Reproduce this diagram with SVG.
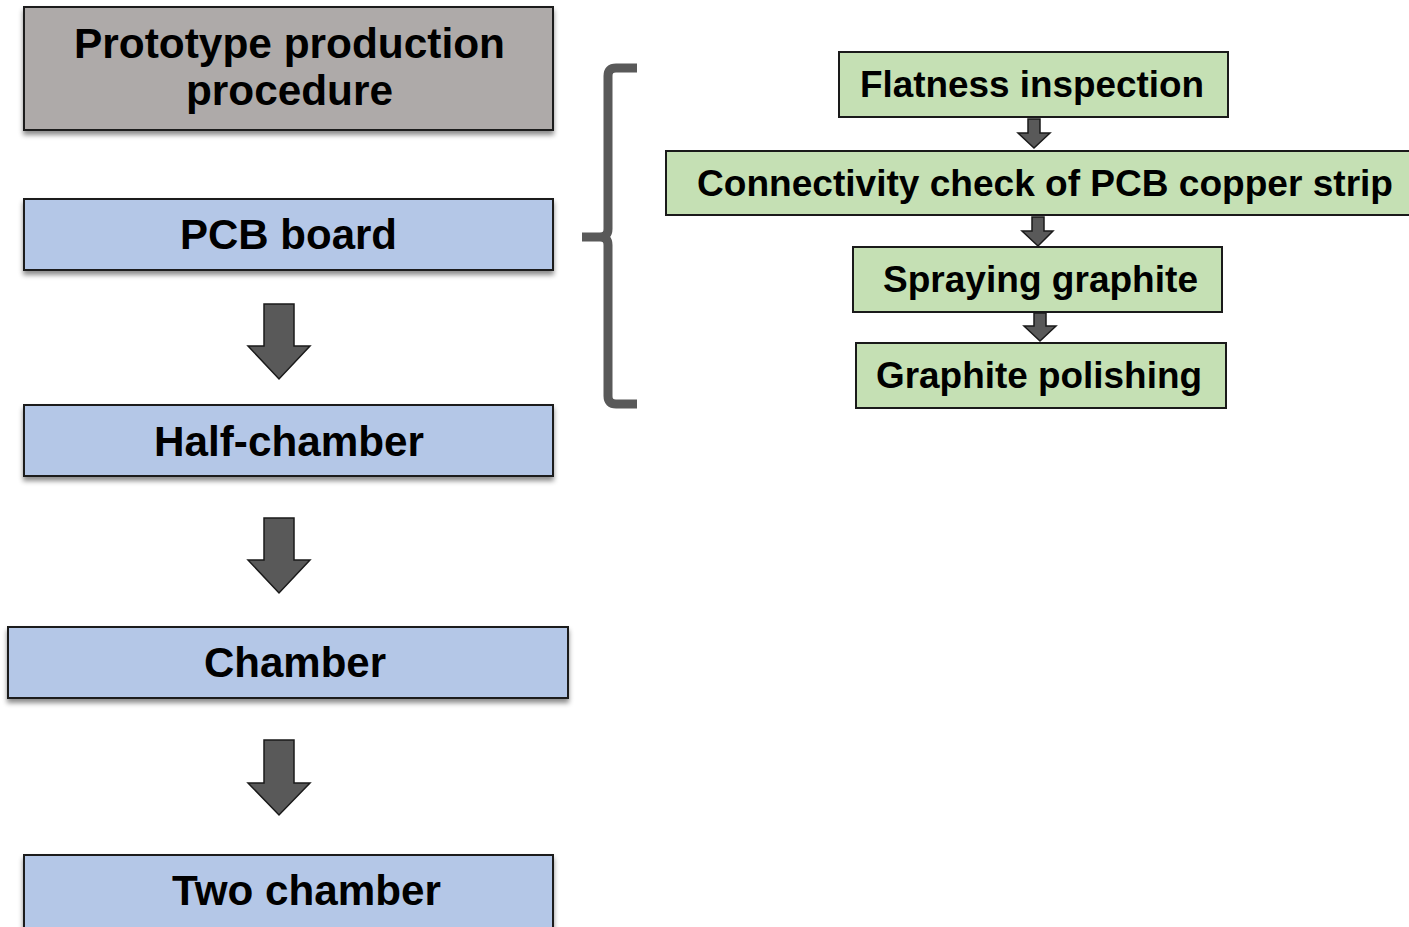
<svg xmlns="http://www.w3.org/2000/svg" width="1409" height="927" viewBox="0 0 1409 927">
<defs>
<filter id="sh" x="-5%" y="-20%" width="110%" height="150%">
<feDropShadow dx="0" dy="4" stdDeviation="2.5" flood-color="#000" flood-opacity="0.45"/>
</filter>
<style>
.gray{fill:#aeaaa9;stroke:#1a1a1a;stroke-width:2}
.blue{fill:#b4c7e7;stroke:#1a1a1a;stroke-width:2}
.green{fill:#c5e0b4;stroke:#1a1a1a;stroke-width:2}
.lt{font-family:"Liberation Sans",Arial,sans-serif;font-weight:bold;font-size:43px;fill:#000;text-anchor:start}
.rt{font-family:"Liberation Sans",Arial,sans-serif;font-weight:bold;font-size:37px;fill:#000;text-anchor:start}
.arr{fill:#595959;stroke:#1a1a1a;stroke-width:1.5;stroke-linejoin:miter}
.brace{fill:none;stroke:#595959;stroke-width:9;stroke-linejoin:round}
</style>
</defs>
<rect width="1409" height="927" fill="#fff"/>

<g id="n-title"><rect class="gray" x="24" y="7" width="529" height="123" filter="url(#sh)"/>
<text class="lt" x="74" y="58" textLength="431" lengthAdjust="spacingAndGlyphs">Prototype production</text>
<text class="lt" x="186" y="105" textLength="207" lengthAdjust="spacingAndGlyphs">procedure</text></g>

<g id="n-pcb"><rect class="blue" x="24" y="199" width="529" height="71" filter="url(#sh)"/>
<text class="lt" x="180" y="249" textLength="217" lengthAdjust="spacingAndGlyphs">PCB board</text></g>

<g id="n-half"><rect class="blue" x="24" y="405" width="529" height="71" filter="url(#sh)"/>
<text class="lt" x="154" y="456" textLength="270" lengthAdjust="spacingAndGlyphs">Half-chamber</text></g>

<g id="n-chamber"><rect class="blue" x="8" y="627" width="560" height="71" filter="url(#sh)"/>
<text class="lt" x="204" y="677" textLength="182" lengthAdjust="spacingAndGlyphs">Chamber</text></g>

<g id="n-two"><rect class="blue" x="24" y="855" width="529" height="80" filter="url(#sh)"/>
<text class="lt" x="172" y="905" textLength="269" lengthAdjust="spacingAndGlyphs">Two chamber</text></g>

<g id="n-flat"><rect class="green" x="839" y="52" width="389" height="65"/>
<text class="rt" x="860" y="97" textLength="344" lengthAdjust="spacingAndGlyphs">Flatness inspection</text></g>

<g id="n-conn"><rect class="green" x="666" y="151" width="750" height="64"/>
<text class="rt" x="697" y="196" textLength="696" lengthAdjust="spacingAndGlyphs">Connectivity check of PCB copper strip</text></g>

<g id="n-spray"><rect class="green" x="853" y="247" width="369" height="65"/>
<text class="rt" x="883" y="292" textLength="315" lengthAdjust="spacingAndGlyphs">Spraying graphite</text></g>

<g id="n-polish"><rect class="green" x="856" y="343" width="370" height="65"/>
<text class="rt" x="876" y="388" textLength="326" lengthAdjust="spacingAndGlyphs">Graphite polishing</text></g>

<g id="connectors">
<path class="arr" d="M264,304 H294 V346 H310 L279,379 L248,346 H264 Z"/>
<path class="arr" d="M264,518 H294 V560 H310 L279,593 L248,560 H264 Z"/>
<path class="arr" d="M264,740 H294 V783 H310 L279,815 L248,783 H264 Z"/>
<path class="arr" d="M1028,119 H1040 V133 H1050 L1034,148 L1018,133 H1028 Z"/>
<path class="arr" d="M1032,217 H1044 V231 H1053 L1038,246 L1022,231 H1032 Z"/>
<path class="arr" d="M1034,313 H1046 V326 H1056 L1040,341 L1024,326 H1034 Z"/>
<path class="brace" d="M637,68 H616 Q608,68 608,76 V229 Q608,237 600,237 H582 M600,237 Q608,237 608,245 V396 Q608,404 616,404 H637"/>
</g>
</svg>
